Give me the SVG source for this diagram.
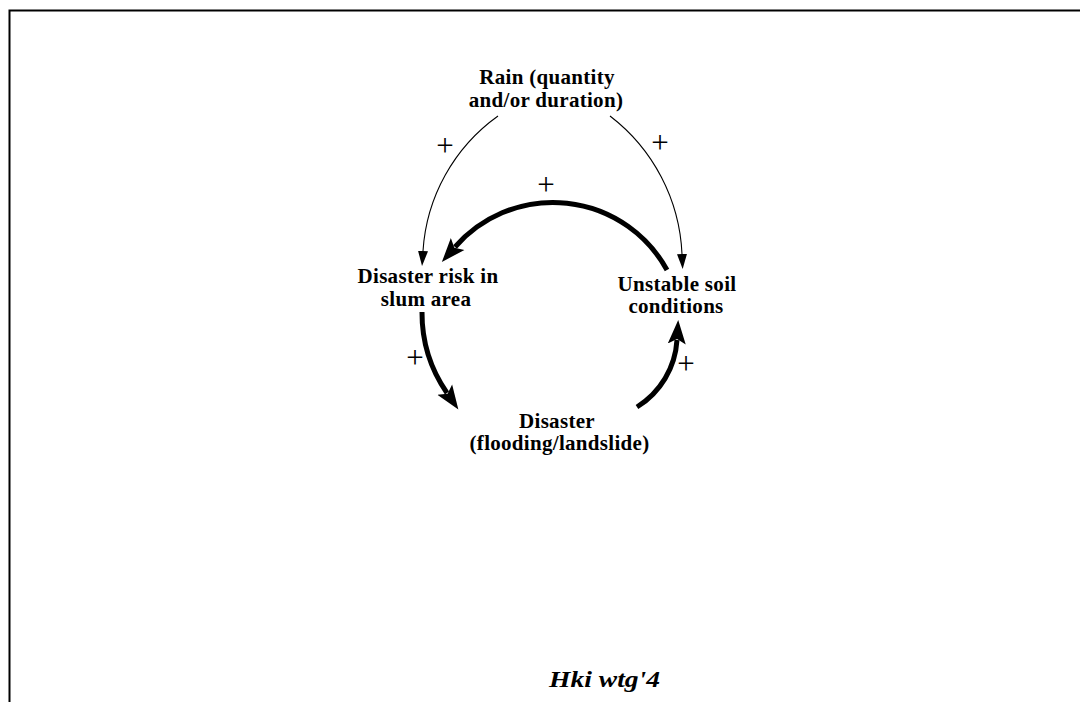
<svg xmlns="http://www.w3.org/2000/svg" width="1080" height="702" viewBox="0 0 1080 702">
<style>
.lbl{font-family:"Liberation Serif","Times New Roman",serif;font-weight:bold;font-size:21px;letter-spacing:0.3px;text-anchor:middle;fill:#000}
.pol{font-family:"Liberation Serif","Times New Roman",serif;font-size:31px;text-anchor:middle;fill:#000}
.thin{fill:none;stroke:#000;stroke-width:1.1}
.thick{fill:none;stroke:#000;stroke-width:5}
</style>
<defs>
<marker id="ah-thin" markerUnits="userSpaceOnUse" markerWidth="16" markerHeight="12" refX="0" refY="6" orient="auto" viewBox="0 0 16 12">
<path d="M0,1 L15,6 L0,11 z" fill="#000"/>
</marker>
<marker id="ah-thick" markerUnits="userSpaceOnUse" markerWidth="26" markerHeight="20" refX="4" refY="10" orient="auto" viewBox="0 0 26 20">
<path d="M0,1 L24,10 L0,19 L5,10 z" fill="#000"/>
</marker>
</defs>
<rect width="1080" height="702" fill="#fff"/>
<path d="M1080,10.5 H9.5 V702" fill="none" stroke="#000" stroke-width="2"/>

<g id="connectors">
<path class="thin" d="M498,116 A180,180 0 0 0 423,251" marker-end="url(#ah-thin)"/>
<path class="thin" d="M610,116 A184,184 0 0 1 682,254" marker-end="url(#ah-thin)"/>
<path class="thick" d="M667,270 A130,130 0 0 0 455,247" marker-end="url(#ah-thick)"/>
<path class="thick" d="M422,312 A141,141 0 0 0 447,393" marker-end="url(#ah-thick)"/>
<path class="thick" d="M637,407 A85,85 0 0 0 677,340" marker-end="url(#ah-thick)"/>
<text class="pol" x="445" y="156">+</text>
<text class="pol" x="660" y="153">+</text>
<text class="pol" x="546" y="195">+</text>
<text class="pol" x="415" y="368">+</text>
<text class="pol" x="686" y="374">+</text>
</g>

<g id="rain">
<text class="lbl" x="547" y="83.5">Rain (quantity</text>
<text class="lbl" x="546" y="106.5">and/or duration)</text>
</g>
<g id="risk">
<text class="lbl" x="428" y="282.5">Disaster risk in</text>
<text class="lbl" x="426" y="306">slum area</text>
</g>
<g id="soil">
<text class="lbl" x="677" y="290.5">Unstable soil</text>
<text class="lbl" x="676" y="313">conditions</text>
</g>
<g id="disaster">
<text class="lbl" x="557" y="427.5">Disaster</text>
<text class="lbl" x="559.5" y="450">(flooding/landslide)</text>
</g>
<g id="caption">
<text x="549" y="687" font-family="'Liberation Serif','Times New Roman',serif" font-weight="bold" font-style="italic" font-size="24" textLength="111" lengthAdjust="spacingAndGlyphs">Hki wtg'4</text>
</g>
</svg>
